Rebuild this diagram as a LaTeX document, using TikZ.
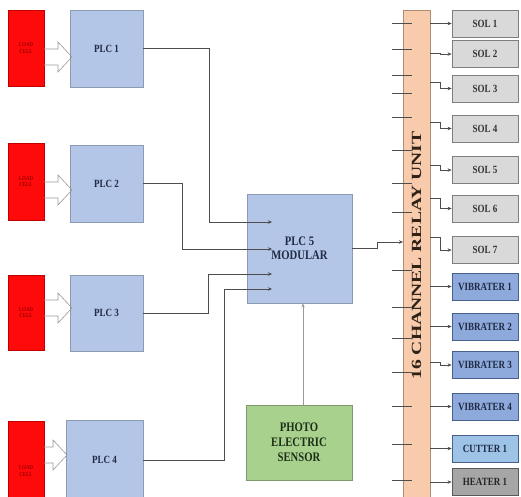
\documentclass[tikz,border=0pt]{standalone}
\usepackage{fontspec}
\setmainfont{Liberation Serif}
\newfontfamily\narrowserif{Liberation Serif}[FakeStretch=0.82]
\usepackage{xcolor}
\usepackage{tikz}
\usetikzlibrary{positioning,arrows.meta,calc}

\definecolor{cellfill}{HTML}{FF0A0A}
\definecolor{celldraw}{HTML}{C00000}
\definecolor{celltext}{HTML}{9A0000}
\definecolor{plcfill}{HTML}{B4C6E7}
\definecolor{plcdraw}{HTML}{8C9BB0}
\definecolor{plctext}{HTML}{1F2A44}
\definecolor{photofill}{HTML}{A9D18E}
\definecolor{photodraw}{HTML}{7E9A6C}
\definecolor{phototext}{HTML}{1C2E16}
\definecolor{relayfill}{HTML}{F8CBAD}
\definecolor{relaydraw}{HTML}{B08C74}
\definecolor{relaytext}{HTML}{2E2118}
\definecolor{solfill}{HTML}{D9D9D9}
\definecolor{soldraw}{HTML}{7F7F7F}
\definecolor{vibfill}{HTML}{8EA9DB}
\definecolor{vibdraw}{HTML}{4A5F8C}
\definecolor{cutfill}{HTML}{9DC3E6}
\definecolor{heatfill}{HTML}{A6A6A6}
\definecolor{heatdraw}{HTML}{595959}
\definecolor{wiregray}{HTML}{4D4D4D}
\definecolor{lightwire}{HTML}{9A9A9A}

\begin{document}
\begin{tikzpicture}[x=1pt, y=-1pt, font=\narrowserif\bfseries,
  blk/.style={draw, line width=0.8pt, inner sep=1pt, align=center},
  cell/.style={blk, draw=celldraw, fill=cellfill, minimum width=36pt, text=celltext,
    font=\narrowserif\bfseries\fontsize{6}{6.5}\selectfont},
  plc/.style={blk, draw=plcdraw, fill=plcfill, text=plctext,
    font=\narrowserif\bfseries\fontsize{11}{12}\selectfont},
  outbox/.style={blk, minimum width=66pt, minimum height=27pt,
    font=\narrowserif\bfseries\fontsize{11}{12}\selectfont},
  solbox/.style={outbox, draw=soldraw, fill=solfill, text=black!80},
  vibbox/.style={outbox, draw=vibdraw, fill=vibfill, text=plctext},
  cutbox/.style={outbox, draw=vibdraw, fill=cutfill, text=plctext},
  heatbox/.style={outbox, draw=heatdraw, fill=heatfill, text=black!85},
  wire/.style={draw=wiregray, line width=0.6pt},
  wirearrow/.style={wire, -{Stealth[length=4pt,width=3.5pt]}},
  blockarrow/.style={draw=gray!80, line width=0.6pt},
]
\useasboundingbox (0,0) rectangle (521,496);
\clip (0,0) rectangle (521,496);

% load cells and the four PLCs
\foreach \i/\y/\h in {1/48/76, 2/181.5/77, 3/312.5/75, 4/471/100}
  \node[cell, minimum height=\h pt] (lc\i) at (26,\y) {LOAD\\CELL};
\foreach \i/\y/\h in {1/48.5/77, 2/183.5/77, 3/313/76}
  \node[plc, minimum width=73pt, minimum height=\h pt] (plc\i) at (106.5,\y) {PLC \i};
\node[plc, minimum width=77pt, minimum height=80pt] (plc4) at (104.5,460) {PLC 4};
% hollow block arrows
\foreach \y/\t in {57/72, 190/72, 308/72, 455/67}
  \draw[blockarrow] (44,\y-8) -- (\t-14,\y-8) -- (\t-14,\y-15) -- (\t,\y)
    -- (\t-14,\y+15) -- (\t-14,\y+8) -- (44,\y+8);

% modular PLC and sensor
\node[plc, minimum width=105pt, minimum height=109pt,
  font=\narrowserif\bfseries\fontsize{13}{14}\selectfont] (plc5) at (299.5,248.5) {PLC 5\\MODULAR};
\node[blk, draw=photodraw, fill=photofill, text=phototext, minimum width=106pt,
  minimum height=75pt, font=\narrowserif\bfseries\fontsize{13}{15}\selectfont] (photo) at (299,442.5)
  {PHOTO\\ELECTRIC\\SENSOR};
\coordinate (in1) at (272,222);
\coordinate (in2) at (272,249);
\coordinate (in3) at (272,274);
\coordinate (in4) at (272,289);
\draw[wirearrow] (plc1.east) -- ++(66,0) |- (in1);
\draw[wirearrow] (plc2.east) -- ++(39,0) |- (in2);
\draw[wirearrow] (plc3.east) -- ++(65,0) |- (in3);
\draw[wirearrow] (plc4.east) -- ++(81,0) |- (in4);
\draw[wirearrow, draw=lightwire] (photo.north -| 303,0) -- (plc5.south -| 303,0);

% relay unit
\node[blk, draw=relaydraw, fill=relayfill, minimum width=27pt, minimum height=520pt]
  (relay) at (416.5,270) {};
\node[rotate=90, text=relaytext, font=\bfseries\fontsize{14}{14}\selectfont]
  (relaylbl) at (416.5,255.5) {\scalebox{1.4}[1]{16 CHANNEL RELAY UNIT}};
\foreach \y in {23,49,75,93,117,150,183,212,270,307,338,372,406,444,480}
  \draw[wire] (392,\y) -- (412,\y);
\coordinate (rin) at (403,242);
\draw[wirearrow] (plc5.east) -- ++(25,0) |- (rin);

% outputs
\foreach \name/\lbl/\sty/\ya/\yb in {
    sol1/SOL 1/solbox/23/23.5, sol2/SOL 2/solbox/53/54, sol3/SOL 3/solbox/82/88.5,
    sol4/SOL 4/solbox/122/128.5, sol5/SOL 5/solbox/165/170, sol6/SOL 6/solbox/198/208.5,
    sol7/SOL 7/solbox/237/250, vib1/VIBRATER 1/vibbox/286.5/286.5,
    vib2/VIBRATER 2/vibbox/326.5/326.5, vib3/VIBRATER 3/vibbox/362/365,
    vib4/VIBRATER 4/vibbox/406.5/406.5, cut1/CUTTER 1/cutbox/448.5/448.5,
    heat1/HEATER 1/heatbox/482/482} {
  \node[\sty] (\name) at (485,\yb) {\lbl};
  \draw[wirearrow] (relay.east |- 0,\ya) -- ++(10,0) |- (\name.west);
}
\end{tikzpicture}
\end{document}
